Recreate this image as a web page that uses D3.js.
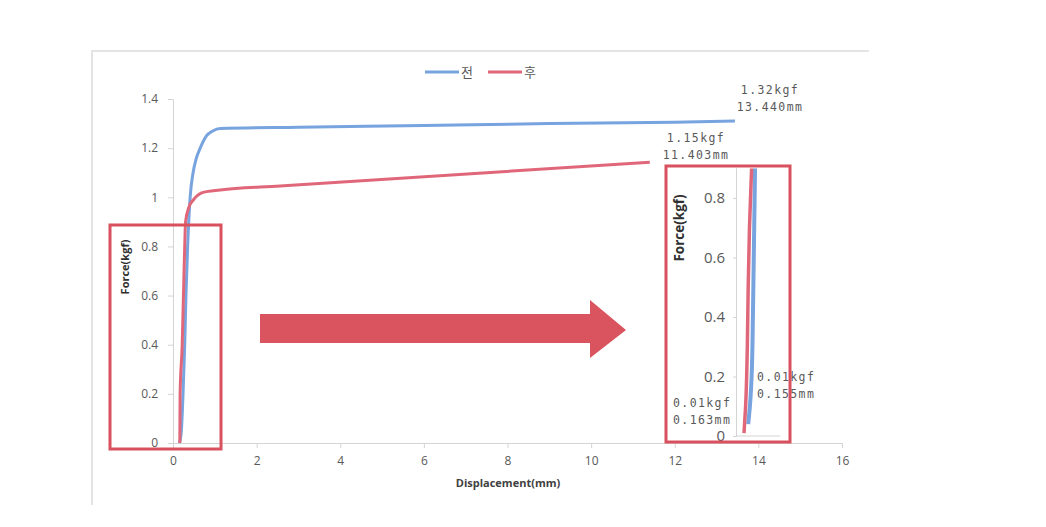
<!DOCTYPE html>
<html><head><meta charset="utf-8">
<script src="https://cdn.jsdelivr.net/npm/d3@7"></script>
<style>body{margin:0;background:#fff}svg{display:block}</style>
</head><body><svg id="c" width="1046" height="527"></svg>
<script>
// ---- data ----
const seriesNames = ["전", "후"];
const xTicks = [0, 2, 4, 6, 8, 10, 12, 14, 16];
const yTicks = [0, 0.2, 0.4, 0.6, 0.8, 1, 1.2, 1.4];
const insetYTicks = [0, 0.2, 0.4, 0.6, 0.8];
// displacement (mm), force (kgf)
const beforeX = [0.155, 0.2, 0.24, 0.28, 0.31, 0.35, 0.41, 0.48, 0.56, 0.65, 0.8, 0.95, 1.13, 3, 6, 9, 12, 13.44];
const beforeY = [0, 0.05, 0.2, 0.4, 0.6, 0.8, 1.0, 1.1, 1.16, 1.2, 1.25, 1.27, 1.28, 1.285, 1.292, 1.3, 1.305, 1.31];
const afterX = [0.163, 0.17, 0.22, 0.25, 0.28, 0.3, 0.38, 0.49, 0.72, 1.13, 2.56, 11.403];
const afterY = [0, 0.2, 0.4, 0.6, 0.8, 0.9, 0.96, 0.99, 1.02, 1.03, 1.046, 1.143];
// zoomed inset (relative displacement units, force kgf)
const insetBeforeX = [0.26, 0.3, 0.34, 0.37, 0.39, 0.41, 0.42];
const insetBeforeY = [0.04, 0.1, 0.2, 0.4, 0.6, 0.8, 0.9];
const insetAfterX = [0.163, 0.2, 0.24, 0.26, 0.29, 0.34];
const insetAfterY = [0.01, 0.1, 0.3, 0.5, 0.7, 0.9];
const annotations = [
  ["1.32kgf", "13.440mm"],
  ["1.15kgf", "11.403mm"],
  ["0.01kgf", "0.155mm"],
  ["0.01kgf", "0.163mm"]
];

const BLUE = "#77a3de", RED = "#e0677a", BOX = "#d9505e", GRAY = "#595959", AXIS = "#d4d4d4";
const svg = d3.select("#c");

// frame
svg.append("path").attr("d", "M92,505 V51 H869").attr("fill", "none").attr("stroke", "#dcdcdc").attr("stroke-width", 1.5);

const x = d3.scaleLinear().domain([0, 16]).range([173, 842]);
const y = d3.scaleLinear().domain([0, 1.4]).range([443, 99]);

// axes
const gx = svg.append("g").attr("transform", `translate(0,${y(0)})`)
  .call(d3.axisBottom(x).tickValues(xTicks).tickSize(5).tickPadding(8).tickFormat(d3.format("d")));
const gy = svg.append("g").attr("transform", `translate(${x(0)},0)`)
  .call(d3.axisLeft(y).tickValues(yTicks).tickSize(5).tickPadding(10).tickFormat(d => d === 0 ? "0" : d3.format("")(d)));
[gx, gy].forEach(g => {
  g.select(".domain").attr("stroke", AXIS);
  g.selectAll(".tick line").attr("stroke", AXIS);
  g.selectAll("text").attr("fill", GRAY).attr("font-family", "Open Sans, sans-serif").attr("font-size", 12);
});

svg.append("text").attr("x", 508).attr("y", 487).attr("text-anchor", "middle")
  .attr("font-family", "Open Sans, sans-serif").attr("font-weight", "bold").attr("font-size", 11).attr("fill", "#404040")
  .text("Displacement(mm)");
svg.append("text").attr("transform", "translate(129,267) rotate(-90)").attr("text-anchor", "middle")
  .attr("font-family", "Open Sans, sans-serif").attr("font-weight", "bold").attr("font-size", 11).attr("fill", "#303030")
  .text("Force(kgf)");

// curves
const line = d3.line().x(d => x(d[0])).y(d => y(d[1])).curve(d3.curveMonotoneX);
const before = beforeX.map((v, i) => [v, beforeY[i]]);
const after = afterX.map((v, i) => [v, afterY[i]]);
svg.append("path").datum(before).attr("d", line).attr("fill", "none").attr("stroke", BLUE).attr("stroke-width", 3);
svg.append("path").datum(after).attr("d", line).attr("fill", "none").attr("stroke", RED).attr("stroke-width", 3);

// legend
const lg = svg.append("g");
[[425, BLUE, 0], [488, RED, 1]].forEach(([lx, col, i]) => {
  lg.append("line").attr("x1", lx).attr("x2", lx + 34).attr("y1", 72).attr("y2", 72).attr("stroke", col).attr("stroke-width", 3);
  lg.append("text").attr("x", lx + 36).attr("y", 77).attr("font-family", "Noto Sans CJK KR").attr("font-size", 13).attr("fill", GRAY).text(seriesNames[i]);
});

// annotations
const annFont = t => t.attr("font-family", "DejaVu Sans Mono, monospace").attr("font-size", 11.5).attr("letter-spacing", "1.4px").attr("fill", GRAY);
const annPos = [[770, 94, "middle"], [696, 142, "middle"], [757, 381, "start"], [673, 407, "start"]];
annotations.forEach((a, i) => {
  const [ax, ay, anc] = annPos[i];
  annFont(svg.append("text").attr("x", ax).attr("y", ay).attr("text-anchor", anc).text(a[0]));
  annFont(svg.append("text").attr("x", ax).attr("y", ay + 16.5).attr("text-anchor", anc).text(a[1]));
});

// left highlight box
svg.append("rect").attr("x", 110).attr("y", 225).attr("width", 111).attr("height", 224)
  .attr("fill", "none").attr("stroke", BOX).attr("stroke-width", 3);

// arrow
svg.append("path").attr("d", "M260,314 H590 V300 L626,330 L590,358 V343 H260 Z").attr("fill", "#d9545f");

// inset
const ix = d3.scaleLinear().domain([0, 1]).range([737, 780]);
const iy = d3.scaleLinear().domain([0, 0.8]).range([436, 198]);
const iAxisY = svg.append("g").attr("transform", `translate(${ix(0)},0)`)
  .call(d3.axisLeft(iy).tickValues(insetYTicks).tickSize(4).tickPadding(8).tickFormat(d => d === 0 ? "0" : d3.format("")(d)));
iAxisY.select(".domain").attr("d", `M-0.5,${iy(0.9)}V${iy(0)}`).attr("stroke", AXIS);
iAxisY.selectAll(".tick line").attr("stroke", AXIS);
iAxisY.selectAll("text").attr("fill", GRAY).attr("font-family", "Open Sans, sans-serif").attr("font-size", 15);
svg.append("line").attr("x1", ix(0)).attr("x2", ix(1)).attr("y1", iy(0)).attr("y2", iy(0)).attr("stroke", AXIS);
svg.append("text").attr("transform", "translate(684,228) rotate(-90)").attr("text-anchor", "middle")
  .attr("font-family", "Open Sans, sans-serif").attr("font-weight", "bold").attr("font-size", 13.5).attr("fill", "#303030")
  .text("Force(kgf)");
svg.append("clipPath").attr("id", "ic").append("rect").attr("x", 700).attr("y", iy(0.9)).attr("width", 90).attr("height", 300);
const iline = d3.line().x(d => ix(d[0])).y(d => iy(d[1])).curve(d3.curveMonotoneY);
const ib = insetBeforeX.map((v, i) => [v, insetBeforeY[i]]);
const ia = insetAfterX.map((v, i) => [v, insetAfterY[i]]);
svg.append("path").datum(ib).attr("d", iline).attr("clip-path", "url(#ic)").attr("fill", "none").attr("stroke", BLUE).attr("stroke-width", 4);
svg.append("path").datum(ia).attr("d", iline).attr("clip-path", "url(#ic)").attr("fill", "none").attr("stroke", RED).attr("stroke-width", 3.5);
svg.append("rect").attr("x", 666).attr("y", 166).attr("width", 124).attr("height", 276)
  .attr("fill", "none").attr("stroke", BOX).attr("stroke-width", 3);
</script></body></html>
